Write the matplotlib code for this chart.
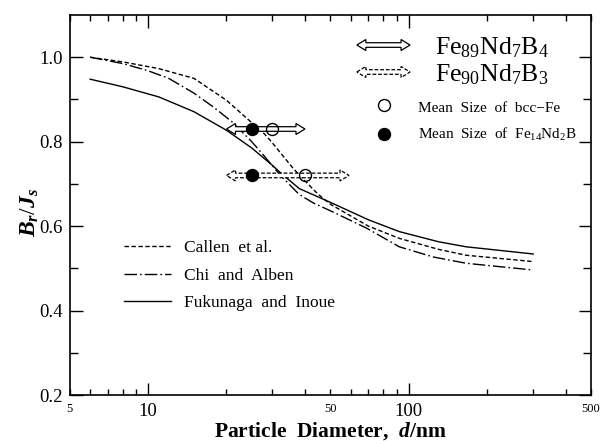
import matplotlib
matplotlib.use('Agg')
import matplotlib.pyplot as plt
from matplotlib.patches import Polygon
from matplotlib.ticker import FixedLocator, FuncFormatter, NullFormatter

plt.rcParams['font.family'] = ['Liberation Serif', 'DejaVu Serif']
plt.rcParams['mathtext.fontset'] = 'custom'
plt.rcParams['mathtext.rm'] = 'Liberation Serif'
plt.rcParams['mathtext.it'] = 'Liberation Serif:italic:bold'
plt.rcParams['mathtext.bf'] = 'Liberation Serif:bold'

# ---------------- data ----------------
x_callen = [6, 8, 11, 15, 20, 25, 28, 30, 36, 40, 45, 50, 70, 92, 130, 166, 300]
y_callen = [1.0, 0.989, 0.973, 0.950, 0.898, 0.845, 0.818, 0.797, 0.737, 0.707, 0.675, 0.652, 0.600, 0.571, 0.545, 0.531, 0.516]

x_chi = [6, 8, 10, 12, 15, 18, 21, 25, 28, 32, 38, 43, 51, 69, 92, 124, 166, 300]
y_chi = [1.0, 0.985, 0.968, 0.950, 0.915, 0.880, 0.847, 0.800, 0.765, 0.722, 0.675, 0.655, 0.634, 0.595, 0.551, 0.527, 0.512, 0.496]

x_fuku = [6, 8, 11, 15, 20, 25, 30, 32, 38, 51, 70, 92, 130, 166, 300]
y_fuku = [0.948, 0.930, 0.906, 0.871, 0.827, 0.785, 0.744, 0.728, 0.689, 0.654, 0.615, 0.587, 0.563, 0.551, 0.534]

curve_labels = ['Callen  et al.', 'Chi  and  Alben', 'Fukunaga  and  Inoue']

alloy_labels = ['Fe$_{89}$Nd$_7$B$_4$', 'Fe$_{90}$Nd$_7$B$_3$']
row_y = [0.83, 0.72]
range_lo = [20, 20]
range_hi = [40, 59]
size_fe14ndb = [25, 25]
size_bccfe = [30, 40]
marker_labels = ['Mean  Size  of  bcc\u2212Fe', 'Mean  Size  of  Fe$_{14}$Nd$_2$B']

xmajor = [10, 100]
xminor = [5, 6, 7, 8, 9, 20, 30, 40, 50, 60, 70, 80, 90, 200, 300, 400, 500]
xminor_labelled = [5, 50, 500]
ymajor = [0.2, 0.4, 0.6, 0.8, 1.0]
yminor = [0.3, 0.5, 0.7, 0.9]

# ---------------- figure ----------------
W, H = 601, 441
fig = plt.figure(figsize=(W / 100, H / 100), dpi=100)
ax = fig.add_axes([69.5 / W, 46 / H, 521.5 / W, 380 / H])
ax.set_xscale('log')
ax.set_xlim(5, 500)
ax.set_ylim(0.2, 1.1)

lw = 1.0
l1, = ax.plot(x_callen, y_callen, color='black', lw=lw, dashes=[3.2, 1.8])
l2, = ax.plot(x_chi, y_chi, color='black', lw=lw, dashes=[9, 2.2, 1.2, 2.2])
l3, = ax.plot(x_fuku, y_fuku, color='black', lw=lw)

for s in ax.spines.values():
    s.set_linewidth(1.2)

ax.xaxis.set_major_locator(FixedLocator(xmajor))
ax.xaxis.set_major_formatter(FuncFormatter(lambda v, p: '%g' % v))
ax.xaxis.set_minor_locator(FixedLocator(xminor))
ax.xaxis.set_minor_formatter(FuncFormatter(lambda v, p: ('%g' % v) if round(v) in xminor_labelled else ''))
ax.yaxis.set_major_locator(FixedLocator(ymajor))
ax.yaxis.set_major_formatter(FuncFormatter(lambda v, p: '%.1f' % v))
ax.yaxis.set_minor_locator(FixedLocator(yminor))
ax.yaxis.set_minor_formatter(NullFormatter())

ax.tick_params(which='both', direction='in', top=True, right=True, width=1.0, color='black')
ax.tick_params(axis='x', which='major', length=9, labelsize=13.5, pad=6)
ax.tick_params(axis='x', which='minor', length=4.5, labelsize=9, pad=6)
ax.tick_params(axis='y', which='major', length=9, labelsize=13.5, pad=5)
ax.tick_params(axis='y', which='minor', length=5.5)

ax.set_xlabel('Particle  Diameter,  $d$/nm', fontsize=15.5, fontweight='bold')
ax.xaxis.set_label_coords(0.5, -0.066)
ax.set_ylabel('$B_r/J_s$', fontsize=17, fontweight='bold')
ax.yaxis.set_label_coords(-0.055, 0.48)


def hollow_darrow(p0, p1, trans, ls, sh=2.3, hh=5.5, hl=9):
    (x0, y0), (x1, y1) = trans.transform([p0, p1])
    verts = [(x0, y0), (x0 + hl, y0 + hh), (x0 + hl, y0 + sh), (x1 - hl, y1 + sh),
             (x1 - hl, y1 + hh), (x1, y1), (x1 - hl, y1 - hh), (x1 - hl, y1 - sh),
             (x0 + hl, y0 - sh), (x0 + hl, y0 - hh)]
    vd = ax.transData.inverted().transform(verts)
    poly = Polygon(vd, closed=True, fc='white', ec='black', lw=0.9, ls=ls,
                   transform=ax.transData, zorder=3)
    ax.add_patch(poly)


styles = ['-', (0, (3, 1.5))]
for i in range(2):
    hollow_darrow((range_lo[i], row_y[i]), (range_hi[i], row_y[i]), ax.transData, styles[i])
ax.plot(size_fe14ndb, row_y, 'o', ms=8.6, mfc='black', mec='black', zorder=5)
ax.plot(size_bccfe, row_y, 'o', ms=8.6, mfc='none', mec='black', mew=1.0, zorder=5)

# legend: alloys
leg_arrow_y = [0.921, 0.850]
leg_text_y = [0.895, 0.824]
for i in range(2):
    hollow_darrow((0.551, leg_arrow_y[i]), (0.653, leg_arrow_y[i]), ax.transAxes, styles[i])
    ax.text(0.701, leg_text_y[i], alloy_labels[i], transform=ax.transAxes, fontsize=18.5,
            va='baseline', ha='left')

# legend: markers
ax.plot([0.603], [0.763], 'o', ms=8.6, mfc='none', mec='black', mew=1.0, transform=ax.transAxes, clip_on=False)
ax.plot([0.603], [0.687], 'o', ms=8.6, mfc='black', mec='black', transform=ax.transAxes, clip_on=False)
ax.text(0.668, 0.7455, marker_labels[0], transform=ax.transAxes, fontsize=11, va='baseline')
ax.text(0.668, 0.674, marker_labels[1], transform=ax.transAxes, fontsize=11, va='baseline')

# legend: curves
ax.legend([l1, l2, l3], curve_labels, loc='upper left', bbox_to_anchor=(0.105, 0.408),
          frameon=False, fontsize=12.5, handlelength=2.7, handletextpad=0.75,
          labelspacing=0.66, borderpad=0, borderaxespad=0)

fig.savefig('out.png', dpi=100)
